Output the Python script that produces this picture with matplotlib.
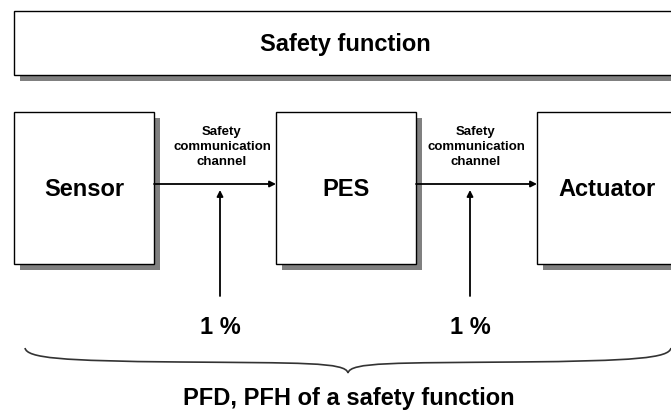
import matplotlib.pyplot as plt
from matplotlib.patches import Rectangle, PathPatch
from matplotlib.path import Path

plt.rcParams['font.family'] = ['Liberation Sans', 'DejaVu Sans']

# blocks of the safety chain: name, left, right
blocks = ['Sensor', 'PES', 'Actuator']
block_left = [14, 276, 537]
block_right = [154, 416, 690]
channel_label = 'Safety\ncommunication\nchannel'
channel_share = ['1 %', '1 %']
channel_x = [220, 470]
label_x = [222, 476]
title = 'Safety function'
footer = 'PFD, PFH of a safety function'

W, H = 671, 412
fig = plt.figure(figsize=(W / 100, H / 100), dpi=100)
ax = fig.add_axes([0, 0, 1, 1])
ax.set_xlim(0, W)
ax.set_ylim(H, 0)
ax.axis('off')

shadow = '#808080'
off = 6


def box(x0, y0, x1, y1):
    ax.add_patch(Rectangle((x0 + off, y0 + off), x1 - x0, y1 - y0,
                           facecolor=shadow, edgecolor='none', zorder=1))
    ax.add_patch(Rectangle((x0, y0), x1 - x0, y1 - y0,
                           facecolor='white', edgecolor='black', lw=1.0, zorder=2))


# top box
box(14, 11, 690, 75)
ax.text(345, 44, title, ha='center', va='center', fontsize=17, fontweight='bold', zorder=3)

# blocks
for name, l, r in zip(blocks, block_left, block_right):
    box(l, 112, r, 264)
    cx = (l + min(r, 678)) / 2
    ax.text(cx, 189, name, ha='center', va='center', fontsize=17, fontweight='bold', zorder=3)

# channels
arrow_y = 184
for i, cx in enumerate(channel_x):
    x0 = block_right[i]
    x1 = block_left[i + 1]
    ax.annotate('', xy=(x1, arrow_y), xytext=(x0, arrow_y),
                arrowprops=dict(arrowstyle='-|>', color='black', lw=1.3,
                                mutation_scale=9, shrinkA=0, shrinkB=0), zorder=3)
    ax.text(label_x[i], 147, channel_label, ha='center', va='center', fontsize=9.5,
            fontweight='bold', linespacing=1.3, zorder=3)
    ax.annotate('', xy=(cx, 190), xytext=(cx, 296),
                arrowprops=dict(arrowstyle='-|>', color='black', lw=1.3,
                                mutation_scale=9, shrinkA=0, shrinkB=0), zorder=3)
    ax.text(cx, 327, channel_share[i], ha='center', va='center', fontsize=17,
            fontweight='bold', zorder=3)

# curly brace
verts = [(25, 348), (27, 358), (60, 361), (180, 362),
         (300, 363), (346, 362), (348, 373),
         (350, 362), (396, 363), (516, 362),
         (636, 361), (669, 358), (671, 348)]
codes = [Path.MOVETO] + [Path.CURVE4] * 12
ax.add_patch(PathPatch(Path(verts, codes), facecolor='none', edgecolor='#333333', lw=1.2))

ax.text(349, 398, footer, ha='center', va='center', fontsize=17, fontweight='bold')

fig.savefig('out.png', dpi=100)
